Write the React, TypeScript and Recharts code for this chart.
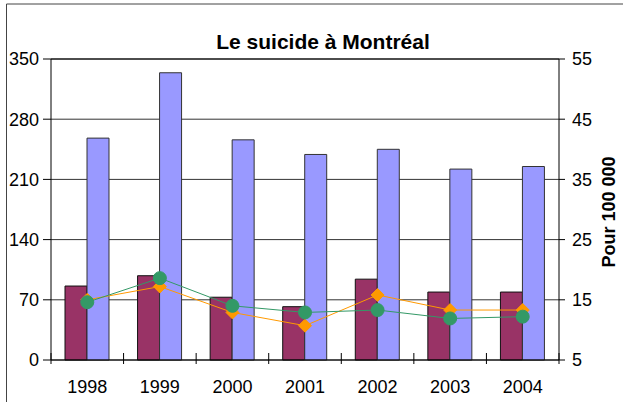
import React from 'react';
import { ComposedChart, Bar, Line, XAxis, YAxis, CartesianGrid, ReferenceLine } from 'recharts';

const years = ['1998', '1999', '2000', '2001', '2002', '2003', '2004'];
const countMaroon = [86, 98, 73, 62, 94, 79, 79];
const countBlue = [258, 334, 256, 239, 245, 222, 225];
const rateOrange = [15.0, 17.2, 12.9, 10.7, 15.8, 13.3, 13.3];
const rateGreen = [14.6, 18.6, 14.0, 12.9, 13.3, 11.9, 12.2];
const leftTicks = [0, 70, 140, 210, 280, 350];
const rightTicks = [5, 15, 25, 35, 45, 55];

const data = years.map((y, i) => ({
  year: y,
  maroon: countMaroon[i],
  blue: countBlue[i],
  orange: rateOrange[i],
  green: rateGreen[i],
}));

const W = 623;
const H = 402;
const FONT = '"Liberation Sans", Arial, sans-serif';
const X_TICK_SIZE = 6;
const X_TICK_MARGIN = 14;

const Diamond = (props: any) => {
  const { cx, cy, index } = props;
  if (cx == null || cy == null) return <g key={`d${index}`} />;
  const r = 6.5;
  return (
    <polygon
      key={`d${index}`}
      points={`${cx},${cy - r} ${cx + r},${cy} ${cx},${cy + r} ${cx - r},${cy}`}
      fill="#FF9900"
      stroke="#FF9900"
    />
  );
};

const Circle = (props: any) => {
  const { cx, cy, index } = props;
  if (cx == null || cy == null) return <g key={`c${index}`} />;
  return <circle key={`c${index}`} cx={cx} cy={cy} r={6.5} fill="#339966" stroke="#339966" />;
};

const YearTick = (props: any) => {
  const { x, y, payload, index } = props;
  const half =
    payload && typeof payload.offset === 'number' && payload.offset > 0
      ? payload.offset
      : typeof props.width === 'number'
      ? props.width / years.length / 2
      : 0;
  const axisY = y - X_TICK_SIZE - X_TICK_MARGIN;
  const isLast = index === years.length - 1;
  return (
    <g>
      <line x1={x - half} x2={x - half} y1={axisY - 7} y2={axisY + 4} stroke="#000" strokeWidth={1} />
      {isLast ? (
        <line x1={x + half} x2={x + half} y1={axisY - 7} y2={axisY + 4} stroke="#000" strokeWidth={1} />
      ) : null}
      <text x={x} y={y} dy="0.71em" textAnchor="middle" fill="#000" fontSize={18} fontFamily={FONT}>
        {payload ? payload.value : ''}
      </text>
    </g>
  );
};

export default function App() {
  const tickStyle = { fill: '#000', fontSize: 18, fontFamily: FONT };
  return (
    <div style={{ position: 'absolute', left: 0, top: 0, width: W, height: H, background: '#fff' }}>
      <ComposedChart
        width={W}
        height={H}
        data={data}
        margin={{ top: 59, right: 0, bottom: 0, left: 0 }}
        barGap={0}
        style={{ fontFamily: FONT }}
      >
        <CartesianGrid yAxisId="left" xAxisId="cat" vertical={false} stroke="#333" strokeWidth={1} />
        <XAxis
          xAxisId="cat"
          dataKey="year"
          height={42}
          axisLine={{ stroke: '#000' }}
          tickLine={false}
          tickSize={X_TICK_SIZE}
          tickMargin={X_TICK_MARGIN}
          tick={YearTick}
          interval={0}
        />
        <YAxis
          yAxisId="left"
          domain={[0, 350]}
          ticks={leftTicks}
          width={51}
          axisLine={{ stroke: '#000' }}
          tickLine={{ stroke: '#000' }}
          tickSize={8}
          tickMargin={4}
          tick={tickStyle}
          interval={0}
        />
        <YAxis
          yAxisId="right"
          orientation="right"
          domain={[5, 55]}
          ticks={rightTicks}
          width={64}
          axisLine={{ stroke: '#000' }}
          tickLine={{ stroke: '#000' }}
          tickSize={6}
          tickMargin={7}
          tick={{ ...tickStyle, textAnchor: 'start' }}
          interval={0}
        />
        <ReferenceLine yAxisId="left" xAxisId="cat" y={350} stroke="#000" />
        <Bar
          xAxisId="cat"
          yAxisId="left"
          dataKey="maroon"
          fill="#993366"
          stroke="#111"
          strokeWidth={1}
          barSize={22}
          isAnimationActive={false}
        />
        <Bar
          xAxisId="cat"
          yAxisId="left"
          dataKey="blue"
          fill="#9999FF"
          stroke="#333"
          strokeWidth={1}
          barSize={22}
          isAnimationActive={false}
        />
        <Line
          xAxisId="cat"
          yAxisId="right"
          dataKey="orange"
          stroke="#FF9900"
          strokeWidth={1}
          dot={Diamond}
          activeDot={false}
          isAnimationActive={false}
        />
        <Line
          xAxisId="cat"
          yAxisId="right"
          dataKey="green"
          stroke="#339966"
          strokeWidth={1}
          dot={Circle}
          activeDot={false}
          isAnimationActive={false}
        />
      </ComposedChart>
      <svg
        width={W}
        height={H}
        style={{ position: 'absolute', left: 0, top: 0, pointerEvents: 'none' }}
      >
        <line x1={6.5} y1={4} x2={W} y2={4} stroke="#444" strokeWidth={1} />
        <line x1={6.5} y1={4} x2={6.5} y2={H} stroke="#444" strokeWidth={1} />
        <text
          x={323}
          y={49}
          textAnchor="middle"
          fontFamily={FONT}
          fontWeight="bold"
          fontSize={21}
          fill="#000"
        >
          Le suicide à Montréal
        </text>
        <text
          x={0}
          y={0}
          transform="translate(615,212) rotate(-90)"
          textAnchor="middle"
          fontFamily={FONT}
          fontWeight="bold"
          fontSize={18}
          fill="#000"
        >
          Pour 100 000
        </text>
      </svg>
    </div>
  );
}
